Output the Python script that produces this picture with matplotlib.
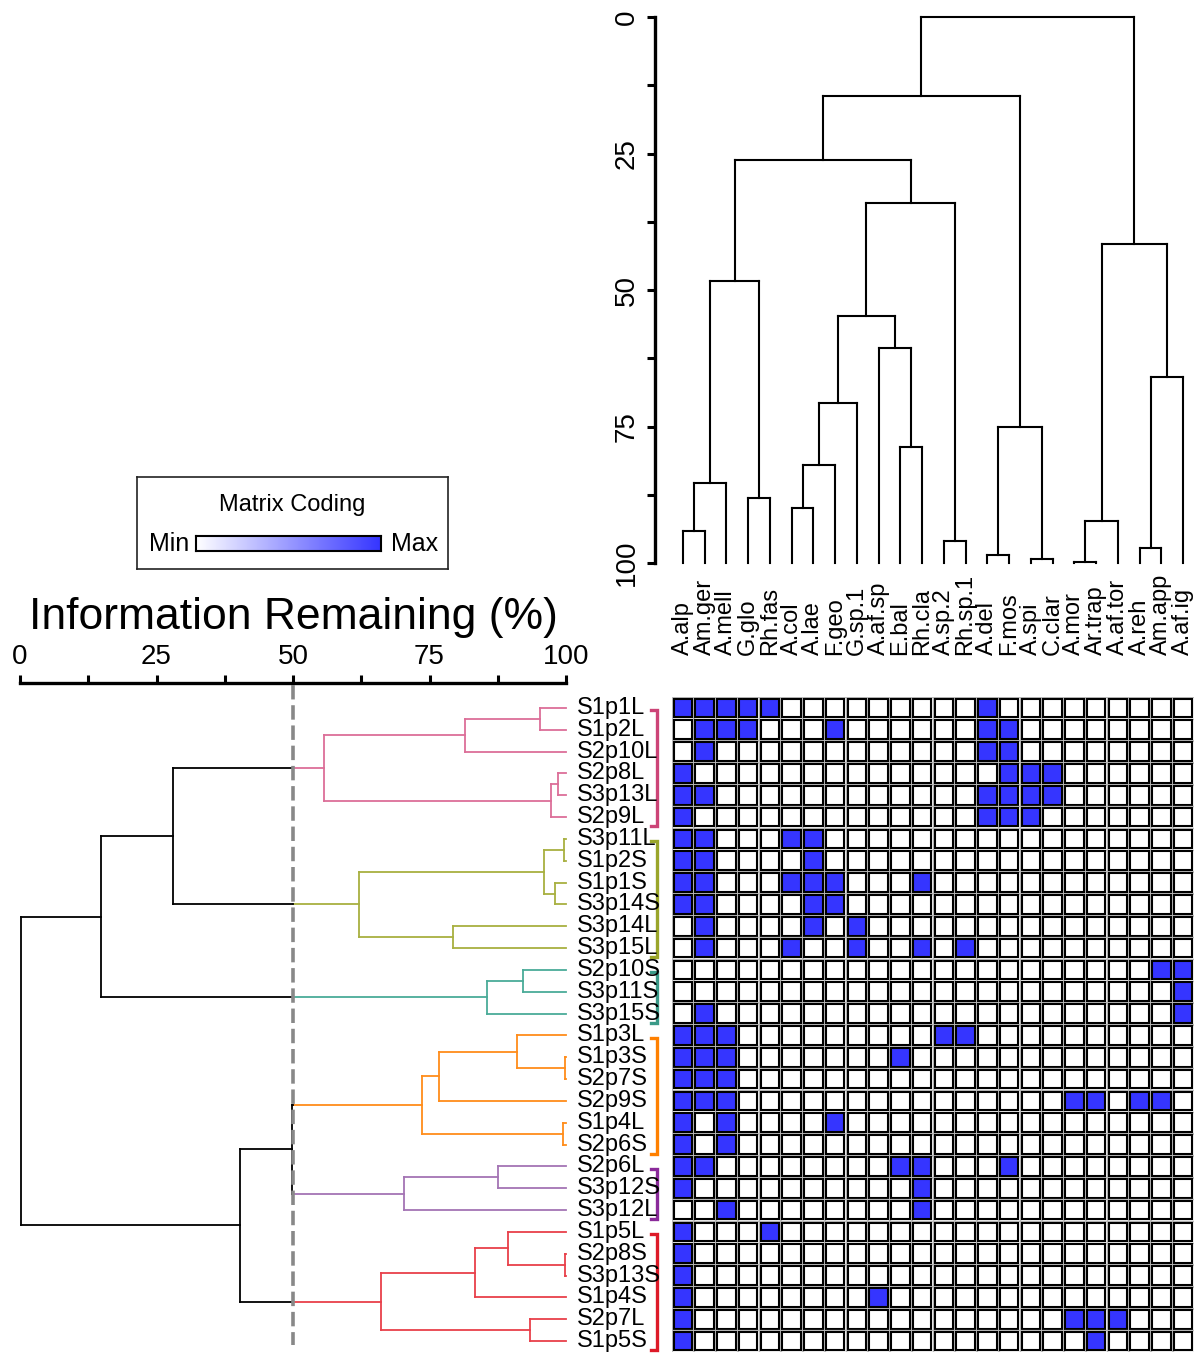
import numpy as np
import matplotlib.pyplot as plt
from matplotlib.patches import Rectangle
from matplotlib.colors import LinearSegmentedColormap

plt.rcParams['font.family'] = ['Liberation Sans', 'DejaVu Sans']

W, H = 1204, 1353

# matrix columns / leaves of the top dendrogram
taxa = ["A.alp", "Am.ger", "A.mell", "G.glo", "Rh.fas", "A.col", "A.lae",
        "F.geo", "G.sp.1", "A.af.sp", "E.bal", "Rh.cla", "A.sp.2", "Rh.sp.1",
        "A.del", "F.mos", "A.spi", "C.clar", "A.mor", "Ar.trap", "A.af.tor",
        "A.reh", "Am.app", "A.af.ig"]

# matrix rows / leaves of the left dendrogram
samples = ["S1p1L", "S1p2L", "S2p10L", "S2p8L", "S3p13L", "S2p9L",
           "S3p11L", "S1p2S", "S1p1S", "S3p14S", "S3p14L", "S3p15L",
           "S2p10S", "S3p11S", "S3p15S",
           "S1p3L", "S1p3S", "S2p7S", "S2p9S", "S1p4L", "S2p6S",
           "S2p6L", "S3p12S", "S3p12L",
           "S1p5L", "S2p8S", "S3p13S", "S1p4S", "S2p7L", "S1p5S"]

# filled cells (column indices) for each row
present = [
    [0, 1, 2, 3, 4, 14],
    [1, 2, 3, 7, 14, 15],
    [1, 14, 15],
    [0, 15, 16, 17],
    [0, 1, 14, 15, 16, 17],
    [0, 14, 15, 16],
    [0, 1, 5, 6],
    [0, 1, 6],
    [0, 1, 5, 6, 7, 11],
    [0, 1, 6, 7],
    [1, 6, 8],
    [1, 5, 8, 11, 13],
    [22, 23],
    [23],
    [1, 23],
    [0, 1, 2, 12, 13],
    [0, 1, 2, 10],
    [0, 1, 2],
    [0, 1, 2, 18, 19, 21, 22],
    [0, 2, 7],
    [0, 2],
    [0, 1, 10, 11, 15],
    [0, 11],
    [2, 11],
    [0, 4],
    [0],
    [0],
    [0, 9],
    [0, 18, 19, 20],
    [0, 19],
]

# top dendrogram merges (a, b, information remaining %), named m1, m2, ...
col_merges = [
    ("A.alp", "Am.ger", 94.1),    # m1
    ("m1", "A.mell", 85.3),       # m2
    ("G.glo", "Rh.fas", 88.1),    # m3
    ("m2", "m3", 48.4),           # m4
    ("A.col", "A.lae", 90.0),     # m5
    ("m5", "F.geo", 82.0),        # m6
    ("m6", "G.sp.1", 70.7),       # m7
    ("E.bal", "Rh.cla", 78.8),    # m8
    ("A.af.sp", "m8", 60.6),      # m9
    ("m7", "m9", 54.8),           # m10
    ("A.sp.2", "Rh.sp.1", 96.0),  # m11
    ("m10", "m11", 34.0),         # m12
    ("m4", "m12", 26.2),          # m13
    ("A.del", "F.mos", 98.5),     # m14
    ("A.spi", "C.clar", 99.3),    # m15
    ("m14", "m15", 75.1),         # m16
    ("m13", "m16", 14.5),         # m17
    ("A.mor", "Ar.trap", 99.9),   # m18
    ("m18", "A.af.tor", 92.3),    # m19
    ("A.reh", "Am.app", 97.3),    # m20
    ("m20", "A.af.ig", 66.0),     # m21
    ("m19", "m21", 41.6),         # m22
    ("m17", "m22", 0.0),          # m23
]

# left dendrogram merges, named r1, r2, ...
row_merges = [
    ("S1p1L", "S1p2L", 95.2),     # r1
    ("r1", "S2p10L", 81.5),       # r2
    ("S2p8L", "S3p13L", 98.5),    # r3
    ("r3", "S2p9L", 97.2),        # r4
    ("r2", "r4", 55.7),           # r5
    ("S3p11L", "S1p2S", 99.6),    # r6
    ("S1p1S", "S3p14S", 98.0),    # r7
    ("r6", "r7", 96.0),           # r8
    ("S3p14L", "S3p15L", 79.3),   # r9
    ("r8", "r9", 62.0),           # r10
    ("S2p10S", "S3p11S", 92.1),   # r11
    ("r11", "S3p15S", 85.5),      # r12
    ("S1p3S", "S2p7S", 99.8),     # r13
    ("S1p3L", "r13", 91.0),       # r14
    ("r14", "S2p9S", 76.7),       # r15
    ("S1p4L", "S2p6S", 99.5),     # r16
    ("r15", "r16", 73.6),         # r17
    ("S2p6L", "S3p12S", 87.5),    # r18
    ("r18", "S3p12L", 70.3),      # r19
    ("S2p8S", "S3p13S", 99.9),    # r20
    ("S1p5L", "r20", 89.4),       # r21
    ("r21", "S1p4S", 83.3),       # r22
    ("S2p7L", "S1p5S", 93.4),     # r23
    ("r22", "r23", 66.1),         # r24
    ("r5", "r10", 28.0),          # r25
    ("r25", "r12", 14.8),         # r26
    ("r17", "r19", 49.8),         # r27
    ("r27", "r24", 40.3),         # r28
    ("r26", "r28", 0.2),          # r29
]

# groups cut at 50 %
group_roots = ["r5", "r10", "r12", "r17", "r19", "r24"]
group_line_colors = ["#dc6e98", "#a8b040", "#4aab98", "#ff8c1a", "#a474b4", "#e8404a"]
group_brace_colors = ["#cc4477", "#9aa52a", "#3a9a88", "#ff8000", "#8a2a9a", "#dd1a28"]
cut_level = 50

blue = "#3535ff"


def px_axes(fig, x0, y0, x1, y1):
    return fig.add_axes([x0 / W, 1 - y1 / H, (x1 - x0) / W, (y1 - y0) / H])


def build_tree(leaves, merges, prefix):
    pos = {n: float(i) for i, n in enumerate(leaves)}
    hgt = {n: 100.0 for n in leaves}
    kids = {}
    for k, (a, b, h) in enumerate(merges):
        key = prefix + str(k + 1)
        kids[key] = (a, b)
        pos[key] = (pos[a] + pos[b]) / 2
        hgt[key] = h
    return pos, hgt, kids


def draw_tree(ax, leaves, merges, prefix, horizontal, lw, groups=None, cut=None):
    pos, hgt, kids = build_tree(leaves, merges, prefix)
    color = {}

    def paint(n, c):
        color[n] = c
        for ch in kids.get(n, ()):
            paint(ch, c)

    for root, c in (groups or {}).items():
        paint(root, c)

    def seg(p0, p1, h0, h1, c):
        if horizontal:
            ax.plot([h0, h1], [p0, p1], color=c, lw=lw, clip_on=False)
        else:
            ax.plot([p0, p1], [h0, h1], color=c, lw=lw, clip_on=False)

    for key, (a, b) in kids.items():
        h = hgt[key]
        pc = color.get(key, "black")
        for ch in (a, b):
            cc = color.get(ch, "black")
            if cc != pc and cut is not None:
                seg(pos[ch], pos[ch], hgt[ch], cut, cc)
                seg(pos[ch], pos[ch], cut, h, pc)
            else:
                seg(pos[ch], pos[ch], hgt[ch], h, cc)
        seg(pos[a], pos[b], h, h, pc)
    return kids


def leaves_under(kids, node):
    if node not in kids:
        return [node]
    a, b = kids[node]
    return leaves_under(kids, a) + leaves_under(kids, b)


fig = plt.figure(figsize=(W / 100, H / 100), dpi=100)

col_pitch = 21.75
row_pitch = 21.83
mx0, my0, mx1, my1 = 672, 697, 1194, 1352

# ---- matrix
ax_m = px_axes(fig, mx0, my0, mx1, my1)
ax_m.set_xlim(-0.5, len(taxa) - 0.5)
ax_m.set_ylim(len(samples) - 0.5, -0.5)
ax_m.axis("off")
for i in range(len(samples)):
    for j in range(len(taxa)):
        ax_m.add_patch(Rectangle((j - 0.485, i - 0.485), 0.97, 0.97, fill=False,
                                 ec="#b8b8b8", lw=0.9))
        fc = blue if j in present[i] else "white"
        ax_m.add_patch(Rectangle((j - 0.43, i - 0.43), 0.86, 0.86, fc=fc,
                                 ec="black", lw=1.5))

# column labels
lab_y = -0.5 - (my0 - 655) / row_pitch
for j, name in enumerate(taxa):
    ax_m.text(j, lab_y, name, rotation=90, ha="center", va="bottom",
              fontsize=17, clip_on=False)

# ---- top dendrogram
ax_t = px_axes(fig, 655, 17, mx1, 563)
ax_t.set_xlim(-0.5 - (mx0 - 655) / col_pitch, len(taxa) - 0.5)
ax_t.set_ylim(100, 0)
draw_tree(ax_t, taxa, col_merges, "m", horizontal=False, lw=1.5)
for s in ["top", "right", "bottom"]:
    ax_t.spines[s].set_visible(False)
ax_t.spines["left"].set_linewidth(2.4)
ax_t.set_xticks([])
ax_t.set_yticks([0, 25, 50, 75, 100])
ax_t.set_yticks([12.5, 37.5, 62.5, 87.5], minor=True)
ax_t.tick_params(axis="y", which="both", length=6, width=2.2, labelsize=20, pad=5)
plt.setp(ax_t.get_yticklabels(), rotation=90, va="center")

# ---- left dendrogram
ax_l = px_axes(fig, 20, 683, 566, my1)
ax_l.set_xlim(0, 100)
ax_l.set_ylim(len(samples) - 0.5, -0.5 - (my0 - 683) / row_pitch)
groups = dict(zip(group_roots, group_line_colors))
row_kids = draw_tree(ax_l, samples, row_merges, "r", horizontal=True, lw=1.3,
                     groups=groups, cut=cut_level)
for s in ["bottom", "left", "right"]:
    ax_l.spines[s].set_visible(False)
ax_l.spines["top"].set_linewidth(2.4)
ax_l.xaxis.tick_top()
ax_l.set_xticks([0, 25, 50, 75, 100])
ax_l.set_xticks([12.5, 37.5, 62.5, 87.5], minor=True)
ax_l.set_yticks([])
ax_l.tick_params(axis="x", which="both", length=6, width=2.2, labelsize=20, pad=3)
ax_l.plot([cut_level, cut_level], [-1.05, 29.2], color="#888888", lw=2.6,
          dashes=(4, 1.6), zorder=5, clip_on=False)
fig.text(293 / W, 1 - 617 / H, "Information Remaining (%)", fontsize=32,
         ha="center", va="center")

# row labels
for i, name in enumerate(samples):
    ax_l.text(102, i, name, ha="left", va="center", fontsize=17, clip_on=False)

# group braces
bx = -0.5 - (mx0 - 657) / col_pitch
tx = -0.5 - (mx0 - 651) / col_pitch
for root, c in zip(group_roots, group_brace_colors):
    idx = [samples.index(n) for n in leaves_under(row_kids, root)]
    y0, y1 = min(idx) + 0.1, max(idx) + 0.42
    ax_m.plot([tx, bx, bx, tx], [y0, y0, y1, y1], color=c, lw=2.4,
              solid_joinstyle="miter", clip_on=False)

# ---- legend
ax_k = px_axes(fig, 137, 477, 448, 569)
ax_k.set_xticks([])
ax_k.set_yticks([])
for s in ax_k.spines.values():
    s.set_linewidth(1.2)
    s.set_color("#222222")
ax_k.text(0.5, 0.7, "Matrix Coding", transform=ax_k.transAxes, ha="center",
          va="center", fontsize=17)
ax_g = px_axes(fig, 196, 536, 381, 551)
cmap = LinearSegmentedColormap.from_list("code", ["white", blue])
ax_g.imshow(np.linspace(0, 1, 256)[None, :], cmap=cmap, aspect="auto")
ax_g.set_xticks([])
ax_g.set_yticks([])
for s in ax_g.spines.values():
    s.set_linewidth(1.5)
fig.text(189 / W, 1 - 544 / H, "Min", ha="right", va="center", fontsize=18)
fig.text(391 / W, 1 - 544 / H, "Max", ha="left", va="center", fontsize=18)

fig.savefig("out.png", dpi=100)
